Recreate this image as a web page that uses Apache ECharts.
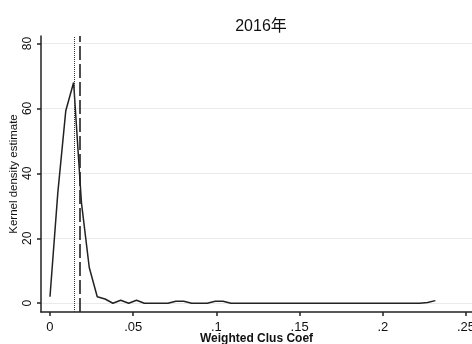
<!DOCTYPE html>
<html>
<head>
<meta charset="utf-8">
<script src="https://cdn.jsdelivr.net/npm/echarts@6/dist/echarts.min.js"></script>
<style>html,body{margin:0;padding:0;background:#fff}#c{width:472px;height:344px}</style>
</head>
<body>
<div id="c"></div>
<script>
const titleText = '2016年';
const xName = 'Weighted Clus Coef';
const yName = 'Kernel density estimate';
const xTicks = [0, 0.05, 0.1, 0.15, 0.2, 0.25];
const yTicks = [0, 20, 40, 60, 80];
const xValues = [0, .0047, .0095, .0142, .0189, .0236, .0284, .0331, .0378, .0425,
  .0473, .0520, .0567, .0615, .0662, .0709, .0756, .0804, .0851, .0898,
  .0945, .0993, .1040, .1087, .1134, .1182, .1229, .1276, .1324, .1371,
  .1418, .1465, .1513, .1560, .1607, .1654, .1702, .1749, .1796, .1843,
  .1891, .1938, .1985, .2032, .2080, .2127, .2174, .2222, .2269, .2316];
const densityValues = [2, 34, 59.3, 68, 31, 11, 2, 1.3, 0, 0.9,
  0, 0.9, 0, 0, 0, 0, 0.6, 0.6, 0, 0,
  0, 0.6, 0.6, 0, 0, 0, 0, 0, 0, 0,
  0, 0, 0, 0, 0, 0, 0, 0, 0, 0,
  0, 0, 0, 0, 0, 0, 0, 0, 0.2, 0.8];
const refLineDotted = 0.0146;
const refLineDashed = 0.0176;
const yMin = -2.7, yMax = 82.3;

const data = xValues.map((x, i) => [x, densityValues[i]]);
const fmtX = v => v === 0 ? '0' : String(+v.toFixed(4)).replace(/^0/, '');
const ink = '#222';
const vline = (v, style) => [{coord: [v, yMin], lineStyle: style}, {coord: [v, yMax]}];
const chart = echarts.init(document.getElementById('c'), null, {renderer: 'canvas'});
chart.setOption({
  animation: false,
  backgroundColor: '#fff',
  textStyle: {fontFamily: 'Liberation Sans, Arial, Noto Sans CJK SC, sans-serif'},
  title: {
    text: titleText, left: 256, top: 14, textAlign: 'center',
    textStyle: {fontSize: 16, fontWeight: 'normal', color: '#111',
      fontFamily: 'Liberation Sans, Noto Sans CJK SC, sans-serif'}
  },
  grid: {left: 41, right: 0, top: 36, bottom: 32, containLabel: false, outerBoundsMode: 'none'},
  xAxis: {
    type: 'value', min: -0.0054, max: 0.2536,
    name: xName, nameLocation: 'middle', nameGap: 21, nameMoveOverlap: false,
    nameTextStyle: {fontSize: 12, fontWeight: 'bold', color: '#111'},
    axisLine: {show: true, onZero: false, lineStyle: {color: ink, width: 1.5}},
    axisTick: {show: true, length: 4, customValues: xTicks, lineStyle: {color: ink, width: 1.5}},
    axisLabel: {show: true, customValues: xTicks, margin: 9, fontSize: 13, color: '#111', formatter: fmtX},
    splitLine: {show: false}
  },
  yAxis: {
    type: 'value', min: yMin, max: yMax,
    name: yName, nameLocation: 'middle', nameGap: 21, nameMoveOverlap: false,
    nameTextStyle: {fontSize: 11.5, color: '#111'},
    axisLine: {show: true, onZero: false, lineStyle: {color: ink, width: 1.5}},
    axisTick: {show: true, length: 4, customValues: yTicks, lineStyle: {color: ink, width: 1.5}},
    axisLabel: {show: true, customValues: yTicks, rotate: 90, margin: 7, fontSize: 12, color: '#111'},
    splitLine: {show: true, customValues: yTicks, lineStyle: {color: '#eaeaea', width: 1.2}}
  },
  series: [{
    type: 'line', data: data, symbol: 'none', smooth: false,
    lineStyle: {color: ink, width: 1.5},
    z: 3
  }, {
    type: 'line', data: [], symbol: 'none', z: 2,
    markLine: {
      silent: true, symbol: 'none', label: {show: false},
      data: [
        vline(refLineDotted, {color: '#333', width: 1, type: [1, 1]}),
        vline(refLineDashed, {color: '#222', width: 1.6, type: [14, 4]})
      ]
    }
  }]
});
</script>
</body>
</html>
